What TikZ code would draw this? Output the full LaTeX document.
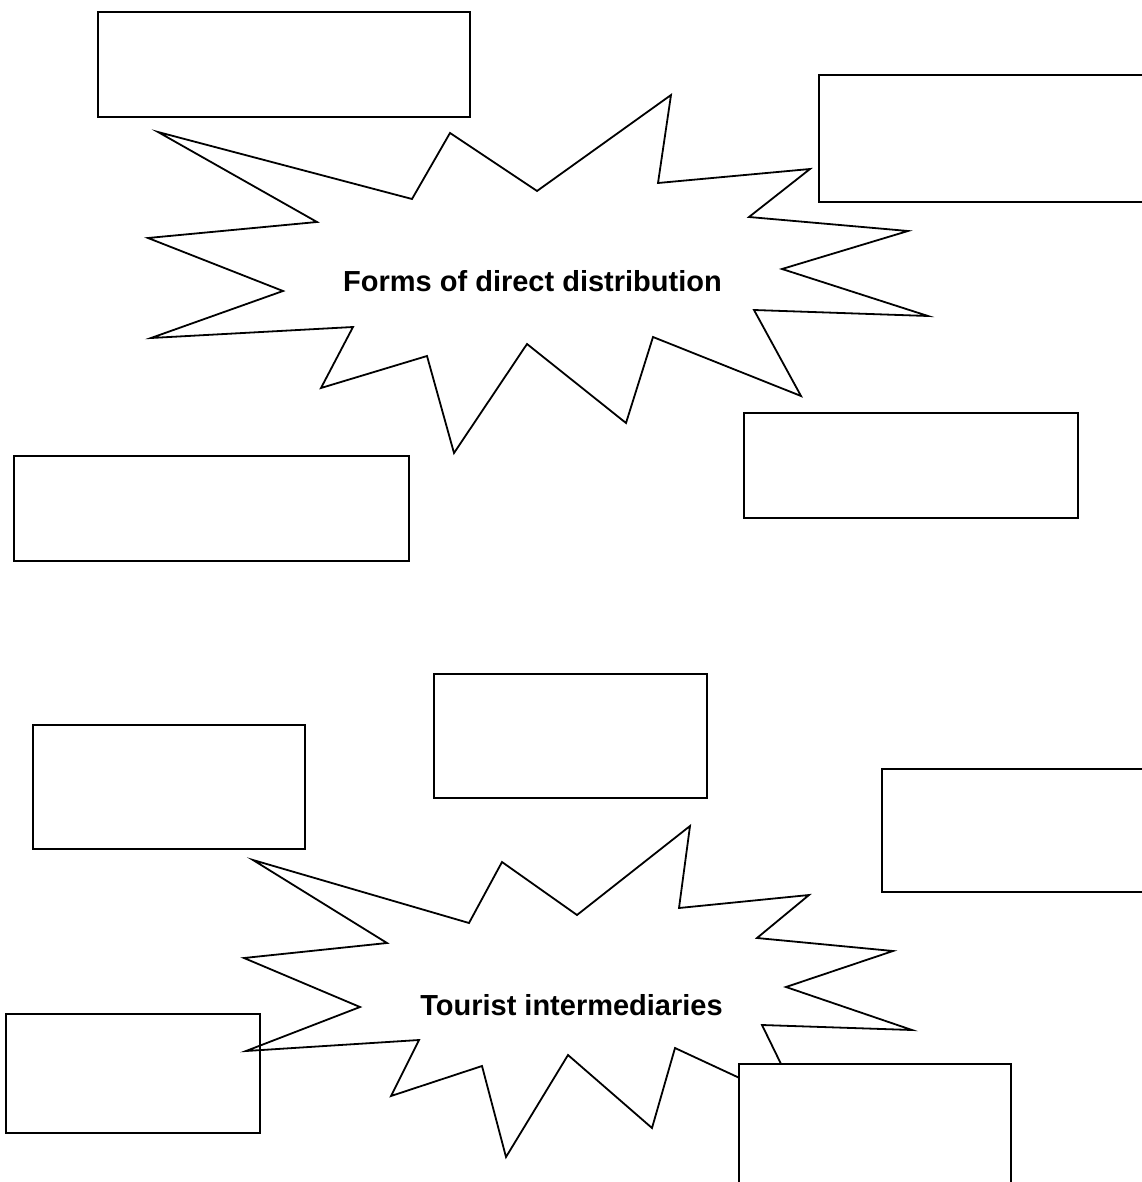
\documentclass[tikz,border=0pt]{standalone}
\usepackage{fontspec}
\setmainfont{Liberation Sans}
\begin{document}
\begin{tikzpicture}[x=1pt,y=-1pt,
  boxnode/.style={draw=black, line width=1.8pt, fill=white, rectangle, inner sep=0pt, anchor=north west},
  starline/.style={draw=black, line width=1.8pt, line join=miter},
  title/.style={font=\fontsize{29}{34}\selectfont\bfseries, inner sep=0pt}]
\useasboundingbox (0,0) rectangle (1141,1182);
% top group
\node[boxnode, minimum width=372pt, minimum height=105pt] (b1) at (97,11) {};
\node[boxnode, minimum width=340pt, minimum height=127pt] (b2) at (818,74) {};
\draw[starline] (158,132) -- (412,199) -- (450,133) -- (537,191) -- (671,95) -- (658,183)
  -- (810,169) -- (749,217) -- (908,231) -- (782,269) -- (928,316) -- (754,310)
  -- (801,396) -- (653,337) -- (626,423) -- (527,344) -- (454,453) -- (427,356)
  -- (321,388) -- (353,327) -- (151,338) -- (283,291) -- (148,238) -- (317,222) -- cycle;
\node[title] (t1) at (532.5,281) {Forms of direct distribution};
\node[boxnode, minimum width=395pt, minimum height=105pt] (b3) at (13,455) {};
\node[boxnode, minimum width=334pt, minimum height=105pt] (b4) at (743,412) {};
% bottom group
\node[boxnode, minimum width=273pt, minimum height=124pt] (b5) at (433,673) {};
\node[boxnode, minimum width=272pt, minimum height=124pt] (b6) at (32,724) {};
\node[boxnode, minimum width=280pt, minimum height=123pt] (b7) at (881,768) {};
\node[draw=black, line width=1.8pt, rectangle, inner sep=0pt, anchor=north west,
  minimum width=254pt, minimum height=119pt] (b8) at (5,1013) {};
\draw[starline] (253,860) -- (469,923) -- (502,862) -- (577,915) -- (690,826) -- (679,908)
  -- (809,895) -- (757,938) -- (893,951) -- (786,987) -- (912,1030) -- (762,1025)
  -- (802,1107) -- (675,1048) -- (652,1128) -- (568,1055) -- (506,1157) -- (482,1066)
  -- (391,1096) -- (419,1040) -- (246,1051) -- (360,1007) -- (244,958) -- (387,943) -- cycle;
\node[title] (t2) at (571.5,1005) {Tourist intermediaries};
\node[boxnode, minimum width=272pt, minimum height=140pt] (b9) at (738,1063) {};
\end{tikzpicture}
\end{document}
